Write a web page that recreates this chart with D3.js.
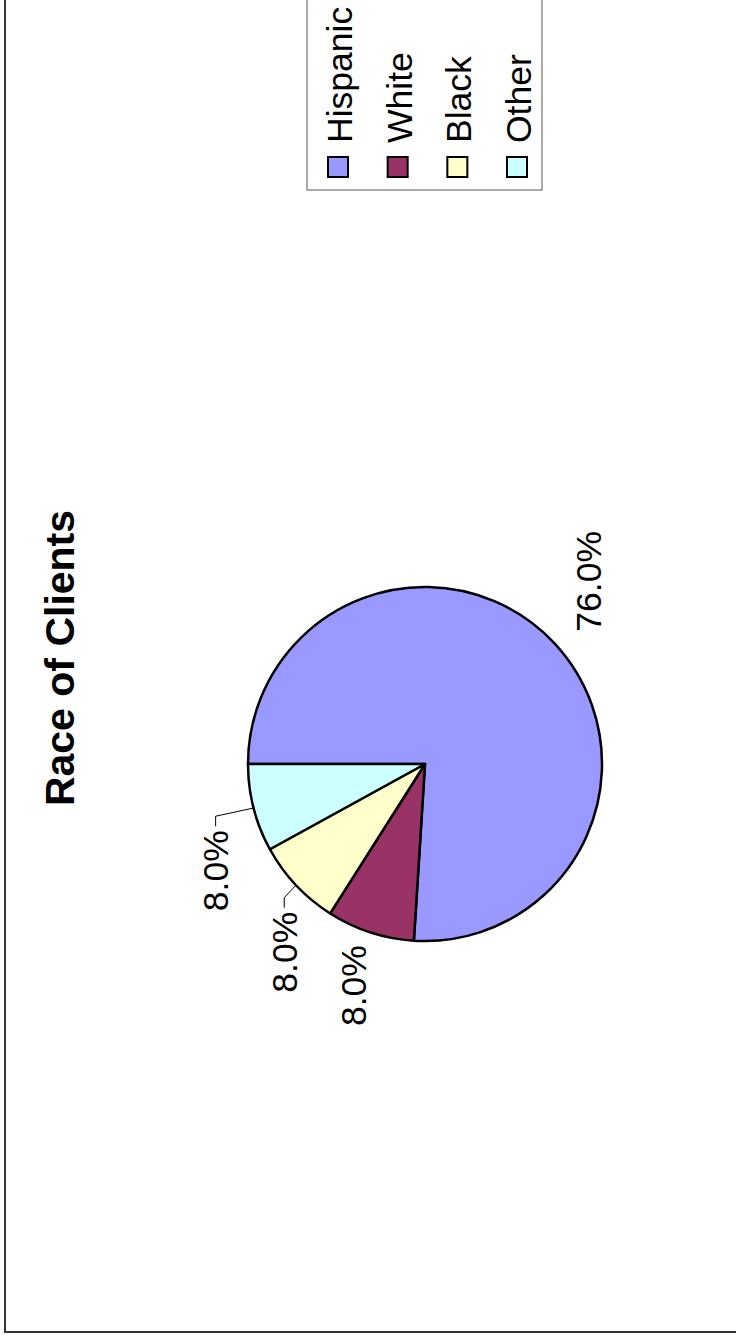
<!DOCTYPE html>
<html>
<head>
<meta charset="utf-8">
<script src="https://cdn.jsdelivr.net/npm/d3@7"></script>
<style>
  html, body { margin: 0; padding: 0; background: #fff; }
  svg { display: block; }
  text { font-family: "Liberation Sans", Arial, sans-serif; }
</style>
</head>
<body>
<script>
// ---- data ----
const categories = ["Hispanic", "White", "Black", "Other"];
const values = [76, 8, 8, 8];
const colors = ["#9999FF", "#993366", "#FFFFCC", "#CCFFFF"];
const title = "Race of Clients";

// ---- layout (chart drawn in its own frame, then rotated -90deg onto the page) ----
const pageW = 736, pageH = 1339;
const W = pageH, H = pageW;          // unrotated chart frame
const cx = 575, cy = 425, R = 177;
const labelShiftDeg = [-5, 0, -10, -12.6];
const labelRadius = [245, 233, 235, 235];
const leader = [false, false, true, true];

const svg = d3.select("body").append("svg")
  .attr("width", pageW).attr("height", pageH);

const root = svg.append("g")
  .attr("transform", `translate(0,${pageH}) rotate(-90)`);

// outer frame
root.append("rect")
  .attr("x", 7).attr("y", 5)
  .attr("width", W + 100).attr("height", H + 100)
  .attr("fill", "none").attr("stroke", "#333").attr("stroke-width", 2);

// title
root.append("text")
  .attr("x", 681).attr("y", 74)
  .attr("text-anchor", "middle")
  .attr("font-size", 41).attr("font-weight", "bold")
  .attr("fill", "#000")
  .text(title);

// pie
const total = d3.sum(values);
const pie = d3.pie().sort(null).value(d => d)(values);
const arc = d3.arc().innerRadius(0).outerRadius(R);
const fmt = d3.format(".1%");

const pg = root.append("g").attr("transform", `translate(${cx},${cy})`);
pg.selectAll("path").data(pie).join("path")
  .attr("d", arc)
  .attr("fill", (d, i) => colors[i])
  .attr("stroke", "#000").attr("stroke-width", 2.5).attr("stroke-linejoin", "round");

const pt = (a, r) => [Math.sin(a) * r, -Math.cos(a) * r];

pie.forEach((d, i) => {
  const mid = (d.startAngle + d.endAngle) / 2;
  const la = mid + labelShiftDeg[i] * Math.PI / 180;
  const [lx, ly] = pt(la, labelRadius[i]);
  const txt = fmt(values[i] / total);
  const t = pg.append("text")
    .attr("x", lx).attr("y", ly)
    .attr("dy", "0.36em")
    .attr("text-anchor", "middle")
    .attr("font-size", 35.5).attr("fill", "#000")
    .text(txt);
  if (leader[i]) {
    const w = t.node().getComputedTextLength();
    const [ex, ey] = pt(mid, R);
    const hx = lx + w / 2 + 4;
    const hx2 = hx + 10;
    pg.append("polyline")
      .attr("points", `${ex},${ey} ${hx2},${ly} ${hx},${ly}`)
      .attr("fill", "none").attr("stroke", "#000").attr("stroke-width", 1);
  }
});

// legend
const legX = 1149, legY = 307, legW = 260, legH = 235;
const lg = root.append("g");
lg.append("rect")
  .attr("x", legX).attr("y", legY).attr("width", legW).attr("height", legH)
  .attr("fill", "#fff").attr("stroke", "#555").attr("stroke-width", 1);
const rowY = d3.scalePoint().domain(categories).range([338, 517]);
categories.forEach((c, i) => {
  const y = rowY(c);
  lg.append("rect")
    .attr("x", 1162).attr("y", y - 10).attr("width", 20).attr("height", 20)
    .attr("fill", colors[i]).attr("stroke", "#000").attr("stroke-width", 2);
  lg.append("text")
    .attr("x", 1196).attr("y", y + 14)
    .attr("font-size", 35.5).attr("fill", "#000")
    .text(c);
});
</script>
</body>
</html>
